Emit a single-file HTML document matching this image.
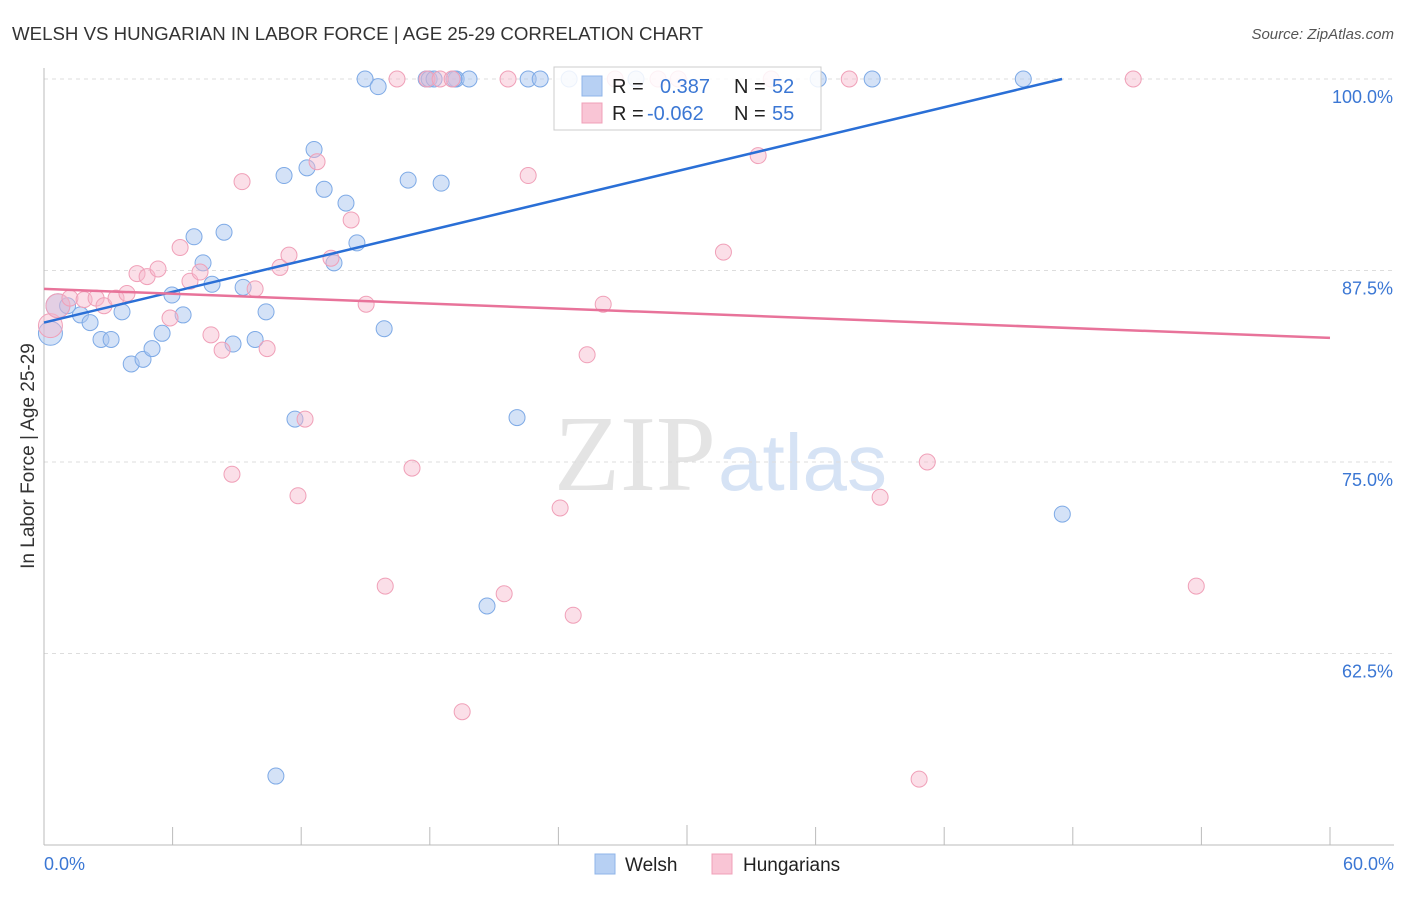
<!DOCTYPE html>
<html><head><meta charset="utf-8"><style>
body{margin:0;background:#fff;font-family:"Liberation Sans",sans-serif}
svg text{font-family:"Liberation Sans",sans-serif}
</style></head><body>
<svg id="c" width="1406" height="892" xmlns="http://www.w3.org/2000/svg">
<text x="12" y="40" font-size="18" fill="#333" textLength="691" lengthAdjust="spacingAndGlyphs">WELSH VS HUNGARIAN IN LABOR FORCE | AGE 25-29 CORRELATION CHART</text>
<text x="1394" y="39" font-size="15" fill="#555" font-style="italic" text-anchor="end">Source: ZipAtlas.com</text>
<text x="34" y="456" font-size="19" fill="#333" text-anchor="middle" transform="rotate(-90 34 456)">In Labor Force | Age 25-29</text>
<text x="716" y="490" font-size="108" fill="#e4e4e4" text-anchor="end" style="font-family:'Liberation Serif',serif">ZIP</text>
<text x="718" y="490" font-size="80" fill="#d6e3f5">atlas</text>
<g id="grid"></g><g id="axes"></g><g id="pts"></g><g id="lines"></g>
<g>
<rect x="554" y="67" width="267" height="63" fill="#fff" fill-opacity="0.85" stroke="#ccc"/>
<rect x="582" y="76" width="20" height="20" fill="#b7d0f3" stroke="#8fb4e8"/>
<rect x="582" y="103" width="20" height="20" fill="#f9c5d5" stroke="#f0a0b8"/>
<text x="612" y="93" font-size="20" fill="#222">R = </text><text x="660" y="93" font-size="20" fill="#3b77d4">0.387</text>
<text x="734" y="93" font-size="20" fill="#222">N = </text><text x="772" y="93" font-size="20" fill="#3b77d4">52</text>
<text x="612" y="120" font-size="20" fill="#222">R = </text><text x="647" y="120" font-size="20" fill="#3b77d4">-0.062</text>
<text x="734" y="120" font-size="20" fill="#222">N = </text><text x="772" y="120" font-size="20" fill="#3b77d4">55</text>
</g>
<g>
<rect x="595" y="854" width="20" height="20" fill="#b7d0f3" stroke="#8fb4e8"/>
<text x="625" y="871" font-size="19" fill="#222">Welsh</text>
<rect x="712" y="854" width="20" height="20" fill="#f9c5d5" stroke="#f0a0b8"/>
<text x="743" y="871" font-size="19" fill="#222">Hungarians</text>
</g>
</svg>
<script>
const yTicks=[100,87.5,75,62.5];
const yTickLabels=["100.0%","87.5%","75.0%","62.5%"];
const xTickLabels=["0.0%","60.0%"];
const welshX=[0.3,0.65,1.1,1.7,2.15,2.66,3.13,3.64,4.07,4.62,5.04,5.51,5.97,6.49,7.0,7.42,7.84,8.4,8.82,9.29,9.85,10.36,11.2,11.71,12.27,12.6,13.07,13.53,14.09,14.6,14.98,15.59,15.87,16.99,17.83,17.97,18.53,19.23,19.83,20.67,22.07,22.59,23.15,10.82,27.62,36.12,38.64,45.69,47.51,19.13,18.2,24.5];
const welshY=[83.4,85.2,85.2,84.6,84.1,83.0,83.0,84.8,81.4,81.7,82.4,83.4,85.9,84.6,89.7,88.0,86.6,90.0,82.7,86.4,83.0,84.8,93.7,77.8,94.2,95.4,92.8,88.0,91.9,89.3,100,99.5,83.7,93.4,100,100,93.2,100,100,65.6,77.9,100,100,54.5,100,100,100,100,71.6,100,100,100];
const hunX=[0.3,0.65,1.21,1.87,2.43,2.8,3.36,3.87,4.34,4.81,5.32,5.88,6.35,6.81,7.28,7.79,8.31,8.77,9.24,9.85,10.41,11.01,11.43,11.85,12.18,12.74,13.39,14.33,15.03,15.92,16.47,17.17,17.87,18.48,19.04,19.51,21.47,21.65,22.59,24.08,24.69,25.34,26.09,26.65,28.65,29.59,31.7,33.32,33.93,37.57,39.01,40.83,41.21,50.82,53.76];
const hunY=[83.9,85.2,85.7,85.6,85.7,85.2,85.7,86.0,87.3,87.1,87.6,84.4,89.0,86.8,87.4,83.3,82.3,74.2,93.3,86.3,82.4,87.7,88.5,72.8,77.8,94.6,88.3,90.8,85.3,66.9,100,74.6,100,100,100,58.7,66.4,100,93.7,72.0,65.0,82.0,85.3,100,100,100,88.7,95.0,100,100,72.7,54.3,75.0,100,66.9];
const welshTrend=[0,84.1,47.5,100];
const hunTrend=[0,86.3,60,83.1];
const X0=44,X1=1330,Y0=79,Y1=845;
const xs=v=>X0+(v/60)*(X1-X0);
const ys=v=>Y0+(100-v)/50*(Y1-Y0);
const NS="http://www.w3.org/2000/svg";
function mk(t,a,p){const e=document.createElementNS(NS,t);for(const k in a)e.setAttribute(k,a[k]);document.getElementById(p).appendChild(e);return e;}
yTicks.forEach((t,i)=>{
 const l=mk('line',{x1:X0,x2:1394,y1:ys(t),y2:ys(t),stroke:'#ddd','stroke-dasharray':'4,4'},'grid');
 
 
 const tx=mk('text',{x:1393,y:ys(t)+24,'font-size':18,fill:'#3b77d4','text-anchor':'end'},'axes');
 tx.textContent=yTickLabels[i];
 
 
});
mk('line',{x1:X0,x2:X0,y1:68,y2:Y1,stroke:'#bbb'},'axes');
mk('line',{x1:X0,x2:1394,y1:Y1,y2:Y1,stroke:'#bbb'},'axes');
for(let i=0;i<=10;i++){const x=xs(i*6);mk('line',{x1:x,x2:x,y1:Y1-(i==5?20:18),y2:Y1,stroke:'#bbb'},'axes');}
[[0,'start',44],[1,'end',1394]].forEach(([i,a,x])=>{const t=mk('text',{x:x,y:870,'font-size':18,fill:'#3b77d4','text-anchor':a},'axes');t.textContent=xTickLabels[i];
 
 });
welshX.forEach((v,i)=>{const c=mk('circle',{cx:xs(v),cy:ys(welshY[i]),r:i<2?12:8,fill:'#a9c6f0','fill-opacity':0.5,stroke:'#7eaae6','stroke-width':1},'pts');
 
 });
hunX.forEach((v,i)=>{const c=mk('circle',{cx:xs(v),cy:ys(hunY[i]),r:i<2?12:8,fill:'#f7b8cc','fill-opacity':0.45,stroke:'#f0a0b8','stroke-width':1},'pts');
 
 });
const bl=mk('line',{x1:xs(welshTrend[0]),y1:ys(welshTrend[1]),x2:xs(welshTrend[2]),y2:ys(welshTrend[3]),stroke:'#2a6fd6','stroke-width':2.5},'lines');


const pl=mk('line',{x1:xs(hunTrend[0]),y1:ys(hunTrend[1]),x2:xs(hunTrend[2]),y2:ys(hunTrend[3]),stroke:'#e8739a','stroke-width':2.5},'lines');


</script>
</body></html>
